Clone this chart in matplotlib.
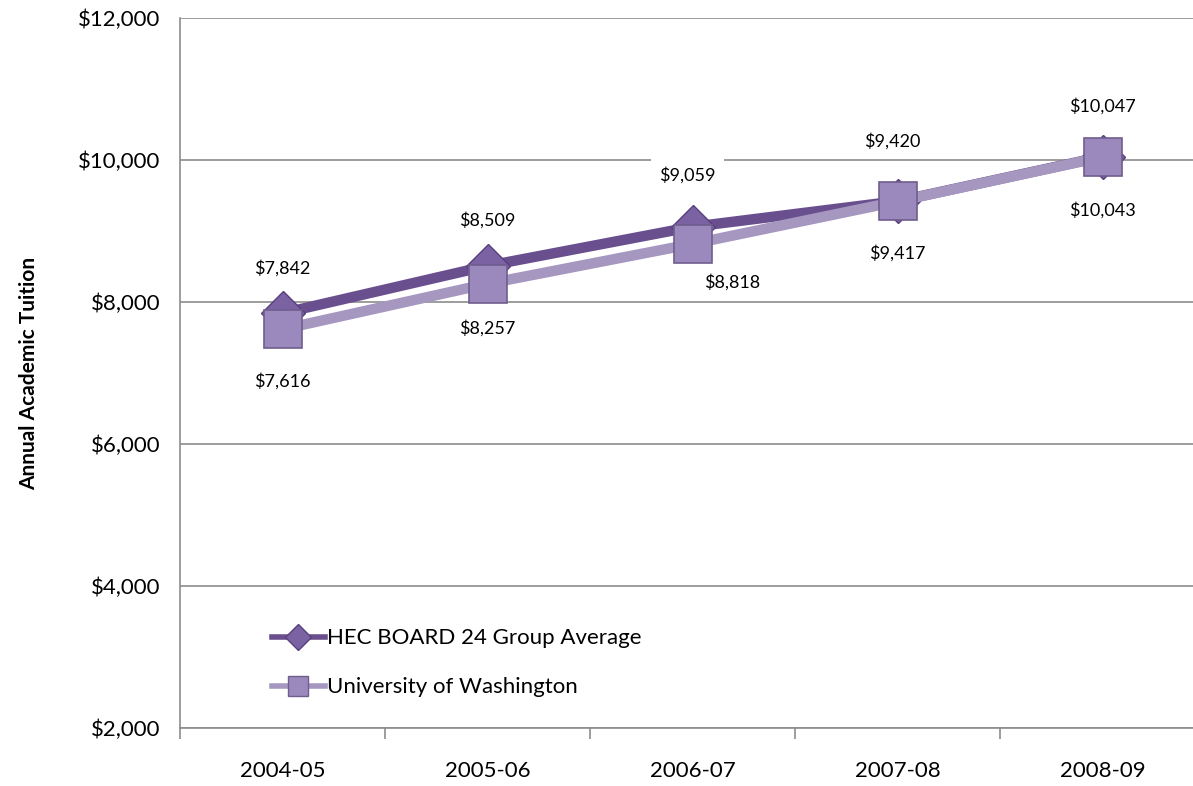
import numpy as np
import matplotlib.pyplot as plt
from matplotlib.lines import Line2D

years = ['2004-05', '2005-06', '2006-07', '2007-08', '2008-09']
hec_avg = [7842, 8509, 9059, 9420, 10047]
uw = [7616, 8257, 8818, 9417, 10043]
yticks = [2000, 4000, 6000, 8000, 10000, 12000]

plt.rcParams['font.family'] = ['Lato', 'DejaVu Sans']

fig = plt.figure(figsize=(11.93, 7.86), dpi=100)
# axes run a little past the right edge, like the original
ax = fig.add_axes([180 / 1193, 58 / 786, 1025 / 1193, 710 / 786])

x = np.arange(len(years))
dark = '#6a4f8e'
light = '#a597c0'

ax.plot(x, hec_avg, color=dark, lw=7.5, marker='D', ms=22, mfc='#7b62a3',
        mec='#5a3f7e', mew=1, zorder=3)
ax.plot(x, uw, color=light, lw=7.5, marker='s', ms=27, mfc='#9b88bd',
        mec='#6f5d8e', mew=1.2, zorder=4)

# data labels
hec_off = [(0, 45), (0, 46), (-5, 52), (-5, 60), (0, 50)]
uw_off = [(0, -52), (0, -44), (40, -38), (0, -52), (0, -53)]
for i in range(len(years)):
    ax.annotate('${:,}'.format(hec_avg[i]), (x[i], hec_avg[i]), xytext=hec_off[i],
                textcoords='offset pixels', ha='center', va='center', fontsize=13,
                bbox=dict(fc='white', ec='none', pad=6), zorder=2)
    ax.annotate('${:,}'.format(uw[i]), (x[i], uw[i]), xytext=uw_off[i],
                textcoords='offset pixels', ha='center', va='center', fontsize=13,
                bbox=dict(fc='white', ec='none', pad=3), zorder=2)

ax.set_ylim(2000, 12000)
ax.set_yticks(yticks)
ax.set_yticklabels(['${:,}'.format(v) for v in yticks], fontsize=16)
ax.yaxis.grid(True, color='#8c8c8c', lw=1.2)
ax.set_axisbelow(True)

ax.set_xlim(-0.5, len(years) - 0.5)
ax.set_xticks(x)
ax.set_xticklabels(years, fontsize=16)
ax.tick_params(axis='x', length=0, pad=24)
ax.set_xticks(np.arange(-0.5, len(years), 1), minor=True)
ax.tick_params(axis='x', which='minor', length=8, color='#8c8c8c', width=1.2)
ax.tick_params(axis='y', length=0, pad=14)

for s in ['top', 'right']:
    ax.spines[s].set_visible(False)
for s in ['left', 'bottom']:
    ax.spines[s].set_color('#8c8c8c')
    ax.spines[s].set_linewidth(1.2)

ax.set_ylabel('Annual Academic Tuition', fontsize=15, fontweight='bold', labelpad=28)

handles = [
    Line2D([], [], color=dark, lw=4, marker='D', ms=13, mfc='#7b62a3', mec='#5a3f7e'),
    Line2D([], [], color=light, lw=4, marker='s', ms=15, mfc='#9b88bd', mec='#6f5d8e'),
]
ax.legend(handles, ['HEC BOARD 24 Group Average', 'University of Washington'],
          loc='lower left', bbox_to_anchor=(0.07, 0.015), frameon=False, fontsize=16,
          handlelength=2.4, labelspacing=1.3, handletextpad=0.1)

fig.savefig('out.png', dpi=100)
